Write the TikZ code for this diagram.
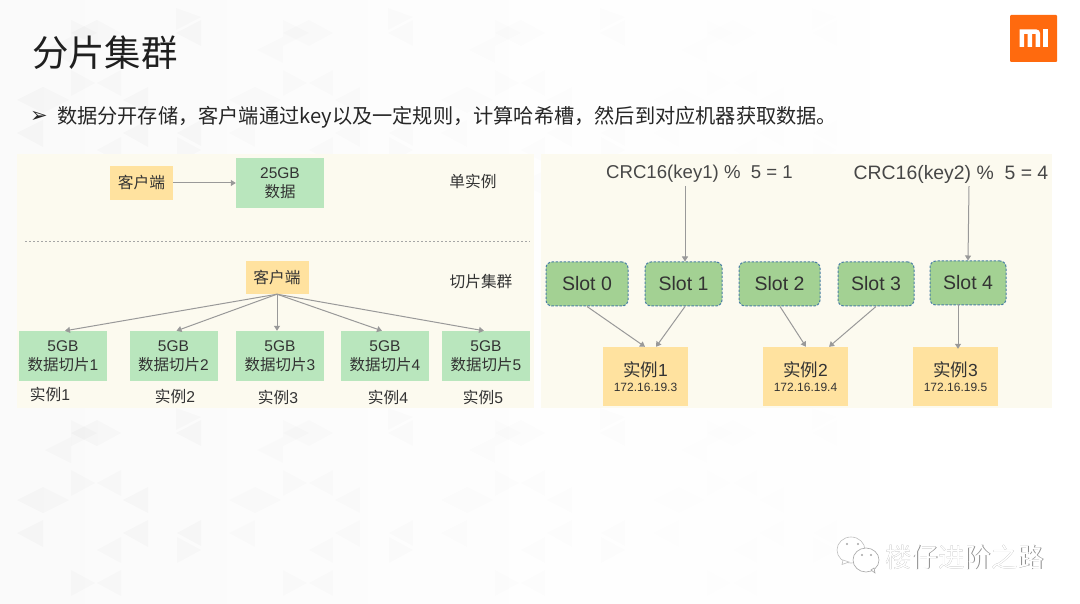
\documentclass[tikz,border=0pt]{standalone}
\usepackage{fontspec}
\setmainfont{Noto Sans CJK SC}
\newfontfamily\latinf{Liberation Sans}
\newfontfamily\symf{DejaVu Sans}
\usetikzlibrary{arrows.meta}
\definecolor{panelbg}{HTML}{FCFAEF}
\definecolor{boxgreen}{HTML}{B9E6BD}
\definecolor{boxyellow}{HTML}{FFE29F}
\definecolor{slotgreen}{HTML}{A3D193}
\definecolor{slotedge}{HTML}{4A7FA5}
\definecolor{arrgray}{HTML}{999999}
\definecolor{txt}{HTML}{333333}
\definecolor{miorange}{HTML}{FF6A0E}
\tikzset{
  x=1pt,y=-1pt,
  panel/.style={fill=panelbg,draw=none},
  txtnode/.style={text=txt,inner sep=0pt,align=center,font=\fontsize{15.7}{18}\selectfont},
  ybox/.style={fill=boxyellow,draw=none,text=txt,inner sep=0pt,align=center,anchor=center,font=\fontsize{15.7}{18}\selectfont},
  gbox/.style={fill=boxgreen,draw=none,text=txt,inner sep=0pt,align=center,anchor=center,minimum width=88pt,minimum height=50pt,font=\fontsize{15.5}{19}\selectfont},
  slotbox/.style={fill=slotgreen,draw=slotedge,dash pattern=on 2.5pt off 1.5pt,line width=1pt,rounded corners=6pt,text=txt,inner sep=0pt,minimum height=44pt,font=\latinf\fontsize{19.5}{21}\selectfont},
  ibox/.style={fill=boxyellow,draw=none,text=txt,inner sep=0pt,align=center,minimum width=85pt,minimum height=59pt},
  arr/.style={draw=arrgray,line width=1pt,-{Triangle[length=5pt,width=6pt]}},
}
\newcommand{\lowpoly}[2]{%
  \begin{scope}[xshift=#1,fill opacity=#2]
  \foreach \dy in {-400,0,400}{
    \begin{scope}[yshift=-\dy pt]
    \fill[black] (17,500)--(43,487)--(43,513)--cycle;
    \fill[black!70] (43,487)--(69,500)--(43,513)--cycle;
    \fill[black] (17,533)--(43,520)--(43,547)--cycle;
    \fill[black] (123,500)--(148,487)--(148,513)--cycle;
    \fill[black] (123,533)--(148,520)--(148,547)--cycle;
    \fill[black!70] (71,420)--(97,433)--(71,446)--cycle;
    \fill[black] (71,433)--(97,420)--(97,446)--cycle;
    \fill[black!70] (97,420)--(121,433)--(97,446)--cycle;
    \fill[black] (176,433)--(201,420)--(201,446)--cycle;
    \fill[black!70] (176,408)--(201,417)--(176,430)--cycle;
    \fill[black!70] (71,470)--(95,483)--(71,496)--cycle;
    \fill[black!70] (97,483)--(121,470)--(121,496)--cycle;
    \fill[black!70] (97,550)--(121,537)--(121,563)--cycle;
    \fill[black!70] (177,537)--(201,550)--(177,563)--cycle;
    \fill[black] (177,533)--(201,520)--(201,546)--cycle;
    \fill[black!70] (97,583)--(121,570)--(121,596)--cycle;
    \fill[black!70] (71,570)--(95,583)--(71,596)--cycle;
    \fill[black!70] (45,450)--(71,437)--(71,463)--cycle;
    \end{scope}
  }
  \end{scope}}
\begin{document}
\begin{tikzpicture}
\useasboundingbox (0,0) rectangle (1080,604);
\shade[left color=black!2,right color=white,middle color=black!0.5] (0,0) rectangle (1080,604);
% faint low-poly backdrop
\lowpoly{0pt}{0.018}
\lowpoly{212pt}{0.013}
\lowpoly{424pt}{0.008}
\lowpoly{636pt}{0.004}
% logo
\fill[miorange,rounded corners=1pt] (1010,15) rectangle (1057,62);
\fill[white] (1019.5,29.5) -- (1036.5,29.5) to[out=0,in=90] (1040,33) -- (1040,47) -- (1035.5,47) -- (1035.5,34) -- (1032,34) -- (1032,47) -- (1027.5,47) -- (1027.5,34) -- (1024,34) -- (1024,47) -- (1019.5,47) -- cycle;
\fill[white] (1043,29.5) rectangle (1047.5,47);
% header
\node[anchor=west,inner sep=0pt,text=black!88] (title) at (32,53) {\fontsize{36.4}{40}\selectfont 分片集群};
\node[anchor=center,inner sep=0pt,text=black!85] (bullet) at (39,117) {\symf\fontsize{21}{24}\selectfont ➢};
\node[anchor=west,inner sep=0pt,text=black!85] (body) at (57,117) {\fontsize{20.2}{24}\selectfont 数据分开存储，客户端通过key以及一定规则，计算哈希槽，然后到对应机器获取数据。};
% left panel
\fill[panel] (17,154) rectangle (534,408);
\node[ybox,minimum width=63pt,minimum height=34pt] (c1) at (141.5,183) {客户端};
\node[gbox] (d0) at (280,183) {{\latinf 25GB}\\数据};
\draw[arr] (c1) -- (d0);
\node[txtnode] (l1) at (473,181) {单实例};
\coordinate (dl) at (25,241);
\coordinate (dr) at (530,241);
\draw[black!35,dash pattern=on 2pt off 2pt,line width=0.8pt] (dl) -- (dr);
\node[ybox,minimum width=63pt,minimum height=33pt] (c2) at (277,277.5) {客户端};
\node[txtnode] (l2) at (481,282) {切片集群};
\node[gbox] (d1) at (63,356) {{\latinf 5GB}\\数据切片{\latinf 1}};
\node[gbox] (d2) at (173.5,356) {{\latinf 5GB}\\数据切片{\latinf 2}};
\node[gbox] (d3) at (280,356) {{\latinf 5GB}\\数据切片{\latinf 3}};
\node[gbox] (d4) at (385,356) {{\latinf 5GB}\\数据切片{\latinf 4}};
\node[gbox] (d5) at (486,356) {{\latinf 5GB}\\数据切片{\latinf 5}};
\draw[arr] (c2.south) -- ([xshift=2pt]d1.north);
\draw[arr] (c2.south) -- ([xshift=3pt]d2.north);
\draw[arr] (c2.south) -- ([xshift=-3pt]d3.north);
\draw[arr] (c2.south) -- ([xshift=-3pt]d4.north);
\draw[arr] (c2.south) -- ([xshift=-2pt]d5.north);
\node[txtnode] (i1) at (50,394) {实例{\latinf 1}};
\node[txtnode] (i2) at (175,396) {实例{\latinf 2}};
\node[txtnode] (i3) at (278,397) {实例{\latinf 3}};
\node[txtnode] (i4) at (388,397) {实例{\latinf 4}};
\node[txtnode] (i5) at (483,397) {实例{\latinf 5}};
% right panel
\fill[panel] (541,154) rectangle (1052,408);
\node[inner sep=0pt,text=txt!90] (k1) at (699.5,174) {\latinf\fontsize{18.6}{20}\selectfont CRC16(key1) \%\ \ 5 = 1};
\node[inner sep=0pt,text=txt!90] (k2) at (951,174) {\latinf\fontsize{19.4}{20}\selectfont CRC16(key2) \%\ \ 5 = 4};
\node[slotbox,minimum width=82pt] (s0) at (587,284) {Slot 0};
\node[slotbox,minimum width=77pt] (s1) at (683.5,284) {Slot 1};
\node[slotbox,minimum width=81pt] (s2) at (779.5,284) {Slot 2};
\node[slotbox,minimum width=76pt] (s3) at (876,284) {Slot 3};
\node[slotbox,minimum width=76pt] (s4) at (968,283) {Slot 4};
\node[ibox] (n1) at (645.5,376.5) {\fontsize{17.5}{20}\selectfont 实例{\latinf 1}\\[3pt]{\latinf\fontsize{12}{13}\selectfont 172.16.19.3}};
\node[ibox] (n2) at (805.5,376.5) {\fontsize{17.5}{20}\selectfont 实例{\latinf 2}\\[3pt]{\latinf\fontsize{12}{13}\selectfont 172.16.19.4}};
\node[ibox] (n3) at (955.5,376.5) {\fontsize{17.5}{20}\selectfont 实例{\latinf 3}\\[3pt]{\latinf\fontsize{12}{13}\selectfont 172.16.19.5}};
\draw[arr] ([xshift=-14.5pt,yshift=-3pt]k1.south) -- ([xshift=1.5pt]s1.north);
\draw[arr] ([xshift=18pt,yshift=-3pt]k2.south) -- (s4.north);
\draw[arr] (s0.south) -- ([xshift=-0.5pt]n1.north);
\draw[arr] ([xshift=1.5pt]s1.south) -- ([xshift=10.5pt]n1.north);
\draw[arr] ([xshift=0.5pt]s2.south) -- ([xshift=0.5pt]n2.north);
\draw[arr] (s3.south) -- ([xshift=23.5pt]n2.north);
\draw[arr] ([xshift=-10pt,yshift=1pt]s4.south) -- ([xshift=2.5pt,yshift=-2pt]n3.north);
% watermark
\fill[white,draw=black!25,line width=0.6pt] (851,550) ellipse (14 and 13);
\fill[white,draw=black!25,line width=0.6pt] (843,560) -- (842,564.5) -- (849,562) -- cycle;
\fill[white,draw=black!35,line width=0.6pt] (866,560) ellipse (13 and 12);
\fill[white,draw=black!35,line width=0.6pt] (871,570) -- (875,573) -- (874,568) -- cycle;
\fill[black!35] (847,544) circle (1.2) (858,544) circle (1.2) (862,555) circle (1.2) (871,555) circle (1.2);
\node[anchor=west,inner sep=0pt,text=black!45] (wm0) at (885.5,557.7) {\fontsize{26.5}{30}\selectfont 楼仔进阶之路};
\node[anchor=west,inner sep=0pt,text=white] (wm) at (885,557) {\fontsize{26.5}{30}\selectfont 楼仔进阶之路};
\end{tikzpicture}
\end{document}
